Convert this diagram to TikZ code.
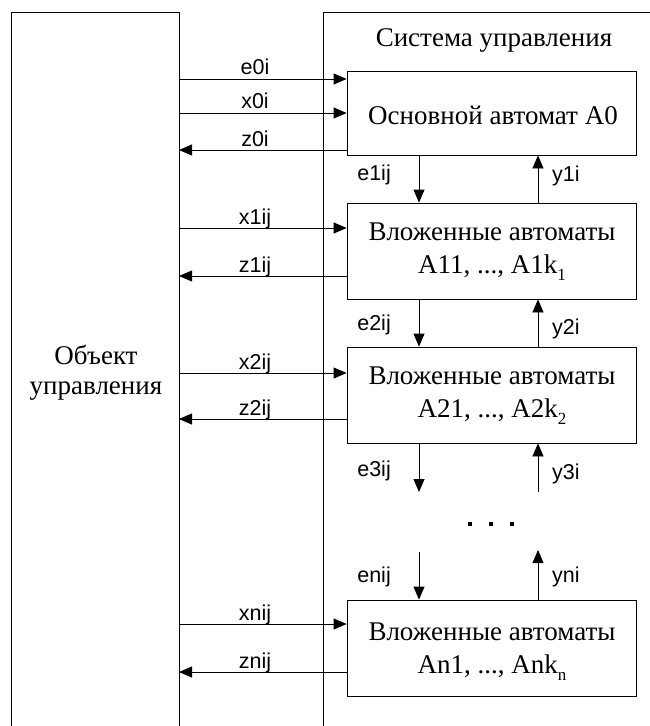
\documentclass[tikz,border=0pt]{standalone}
\usepackage{fontspec}
\setmainfont{Liberation Serif}
\newfontfamily\lblfont{Liberation Sans}
\usetikzlibrary{arrows.meta}
\tikzset{
  ln/.style={line width=0.8bp, draw=black},
  blk/.style={ln, rectangle, minimum width=289bp, inner sep=0pt},
  sig/.style={ln, -{Triangle[length=13bp,width=11bp]}},
  lbl/.style={font=\lblfont\fontsize{21.5bp}{22bp}\selectfont, inner sep=0pt},
  txt/.style={font=\fontsize{27bp}{32bp}\selectfont, inner sep=0pt, anchor=base},
  dotm/.style={fill=black, minimum size=4bp, inner sep=0pt, rectangle}
}
\newcommand{\subidx}[1]{\raisebox{-7bp}{\fontsize{17bp}{17bp}\selectfont #1}}
\begin{document}
\begin{tikzpicture}[x=1bp,y=-1bp]
\useasboundingbox (0,0) rectangle (650,726);
% outer frames (open at the bottom / right)
\coordinate (objbl) at (11,740);
\coordinate (objtl) at (11,12);
\coordinate (objtr) at (179,12);
\coordinate (objbr) at (179,740);
\draw[ln] (objbl) -- (objtl) -- (objtr) -- (objbr);
\coordinate (sysbl) at (323,740);
\coordinate (systl) at (323,12);
\coordinate (systr) at (660,12);
\draw[ln] (sysbl) -- (systl) -- (systr);

\node[txt] (objt1) at (96,364) {Объект};
\node[txt] (objt2) at (96,394) {управления};
\node[txt] (syst) at (494,47) {Система управления};

% blocks
\node[blk, minimum height=84bp] (A0) at (491.5,113) {};
\node[blk, minimum height=96bp] (B1) at (491.5,251) {};
\node[blk, minimum height=96bp] (B2) at (491.5,395) {};
\node[blk, minimum height=96bp] (Bn) at (491.5,648) {};

\node[txt] (A0t) at (493,125) {Основной автомат A0};
\node[txt] (B1t1) at (492,240) {Вложенные автоматы};
\node[txt] (B1t2) at (492,273) {A11, ..., A1k\subidx{1}};
\node[txt] (B2t1) at (492,384) {Вложенные автоматы};
\node[txt] (B2t2) at (492,417) {A21, ..., A2k\subidx{2}};
\node[txt] (Bnt1) at (492,640) {Вложенные автоматы};
\node[txt] (Bnt2) at (492,673) {An1, ..., Ank\subidx{n}};

% horizontal signals
\foreach \nm/\blk/\yy/\dir in {e0i/A0/79/r, x0i/A0/113/r, z0i/A0/150/l,
   x1ij/B1/228/r, z1ij/B1/276/l, x2ij/B2/373/r, z2ij/B2/419/l,
   xnij/Bn/624/r, znij/Bn/672/l}{
  \coordinate (L\nm) at (objtr |- 0,\yy);
  \coordinate (R\nm) at (\blk.west |- 0,\yy);
  \if r\dir
    \draw[sig] (L\nm) -- (R\nm);
  \else
    \draw[sig] (R\nm) -- (L\nm);
  \fi
  \node[lbl, anchor=base] (t\nm) at (255,\yy-4) {\nm};
}

% vertical signals
\coordinate (dx) at (419,0);
\coordinate (ux) at (538,0);
\draw[sig] (A0.south -| dx) -- (B1.north -| dx);
\draw[sig] (B1.north -| ux) -- (A0.south -| ux);
\draw[sig] (B1.south -| dx) -- (B2.north -| dx);
\draw[sig] (B2.north -| ux) -- (B1.south -| ux);
\coordinate (e3end) at (419,492);
\coordinate (y3beg) at (538,492);
\draw[sig] (B2.south -| dx) -- (e3end);
\draw[sig] (y3beg) -- (B2.south -| ux);
\coordinate (enbeg) at (419,552);
\coordinate (ynend) at (538,550);
\draw[sig] (enbeg) -- (Bn.north -| dx);
\draw[sig] (Bn.north -| ux) -- (ynend);

\node[lbl, anchor=base east] (le1) at (391,180) {e1ij};
\node[lbl, anchor=base west] (ly1) at (552,181) {y1i};
\node[lbl, anchor=base east] (le2) at (391,330) {e2ij};
\node[lbl, anchor=base west] (ly2) at (552,334) {y2i};
\node[lbl, anchor=base east] (le3) at (391,476) {e3ij};
\node[lbl, anchor=base west] (ly3) at (552,479) {y3i};
\node[lbl, anchor=base east] (len) at (391,582) {enij};
\node[lbl, anchor=base west] (lyn) at (552,582) {yni};

% dots
\node[dotm] (d1) at (470,524) {};
\node[dotm] (d2) at (491,524) {};
\node[dotm] (d3) at (512,524) {};
\end{tikzpicture}
\end{document}
